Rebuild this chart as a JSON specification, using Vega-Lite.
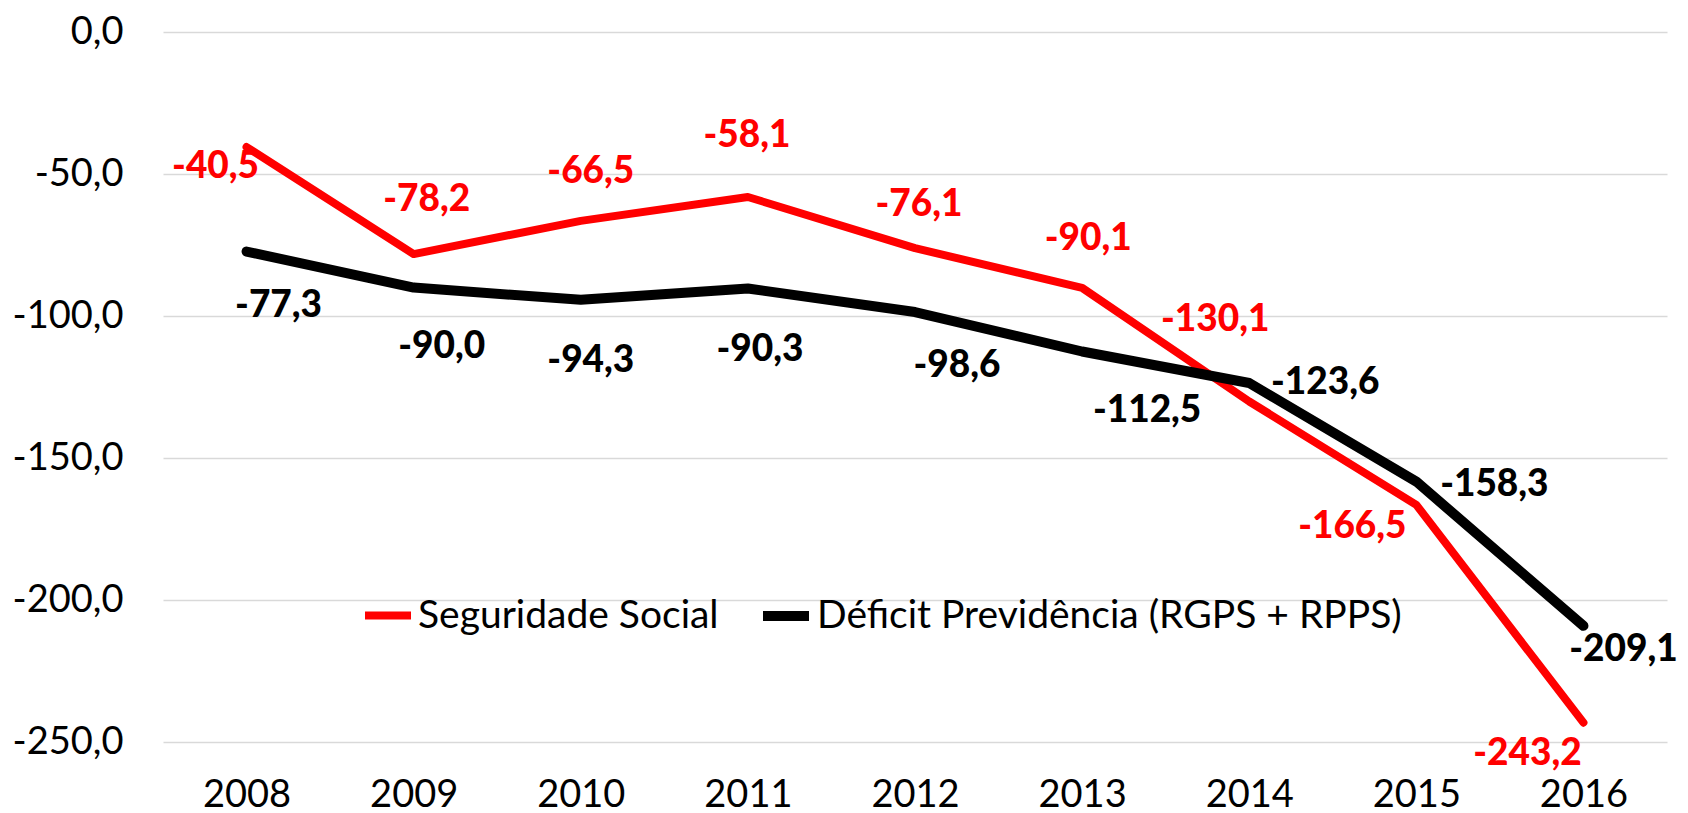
{
  "$schema": "https://vega.github.io/schema/vega-lite/v6.json",
  "width": 1504,
  "height": 710,
  "autosize": {"type": "none"},
  "padding": {"left": 163, "top": 32, "right": 21, "bottom": 71},
  "background": "#FFFFFF",
  "config": {
    "locale": {"number": {"decimal": ",", "thousands": ".", "grouping": [3], "currency": ["R$", ""], "minus": "-"}},
    "view": {"stroke": null},
    "font": "Lato"
  },
  "data": {
    "values": [
      {"year": "2008", "series": "Seguridade Social", "value": -40.5},
      {"year": "2009", "series": "Seguridade Social", "value": -78.2},
      {"year": "2010", "series": "Seguridade Social", "value": -66.5},
      {"year": "2011", "series": "Seguridade Social", "value": -58.1},
      {"year": "2012", "series": "Seguridade Social", "value": -76.1},
      {"year": "2013", "series": "Seguridade Social", "value": -90.1},
      {"year": "2014", "series": "Seguridade Social", "value": -130.1},
      {"year": "2015", "series": "Seguridade Social", "value": -166.5},
      {"year": "2016", "series": "Seguridade Social", "value": -243.2},
      {"year": "2008", "series": "Déficit Previdência (RGPS + RPPS)", "value": -77.3},
      {"year": "2009", "series": "Déficit Previdência (RGPS + RPPS)", "value": -90.0},
      {"year": "2010", "series": "Déficit Previdência (RGPS + RPPS)", "value": -94.3},
      {"year": "2011", "series": "Déficit Previdência (RGPS + RPPS)", "value": -90.3},
      {"year": "2012", "series": "Déficit Previdência (RGPS + RPPS)", "value": -98.6},
      {"year": "2013", "series": "Déficit Previdência (RGPS + RPPS)", "value": -112.5},
      {"year": "2014", "series": "Déficit Previdência (RGPS + RPPS)", "value": -123.6},
      {"year": "2015", "series": "Déficit Previdência (RGPS + RPPS)", "value": -158.3},
      {"year": "2016", "series": "Déficit Previdência (RGPS + RPPS)", "value": -209.1}
    ]
  },
  "encoding": {
    "x": {
      "field": "year", "type": "ordinal",
      "scale": {"type": "point", "padding": 0.5},
      "axis": {"title": null, "labelAngle": 0, "labelFontSize": 38, "labelColor": "#000000", "labelPadding": 34, "ticks": false, "domain": false, "grid": false}
    },
    "y": {
      "field": "value", "type": "quantitative",
      "scale": {"domain": [-250, 0], "nice": false, "zero": false},
      "axis": {"title": null, "values": [0, -50, -100, -150, -200, -250], "format": ".1f", "labelFontSize": 38, "labelColor": "#000000", "labelPadding": 40, "ticks": false, "domain": false, "grid": true, "gridColor": "#D9D9D9", "gridWidth": 1.5}
    }
  },
  "layer": [
    {
      "mark": {"type": "line", "strokeJoin": "round", "strokeCap": "round"},
      "encoding": {
        "color": {
          "field": "series", "type": "nominal",
          "scale": {"domain": ["Seguridade Social", "Déficit Previdência (RGPS + RPPS)"], "range": ["#FF0000", "#000000"]},
          "legend": {"title": null, "orient": "none", "legendX": 198, "legendY": 556, "direction": "horizontal", "symbolType": "stroke", "symbolSize": 2116, "symbolStrokeWidth": 9, "labelFontSize": 39, "labelColor": "#000000", "labelOffset": 3, "columnPadding": 24, "labelLimit": 900}
        },
        "strokeWidth": {
          "field": "series", "type": "nominal",
          "scale": {"domain": ["Seguridade Social", "Déficit Previdência (RGPS + RPPS)"], "range": [8, 10]},
          "legend": null
        }
      }
    },
    {
      "encoding": {"text": {"field": "value", "type": "quantitative", "format": ".1f"}},
      "layer": [
        {"transform": [{"filter": "datum.series == 'Seguridade Social' && datum.year == '2008'"}], "mark": {"type": "text", "fontSize": 37, "fontWeight": 900, "color": "#FF0000", "dx": -31, "dy": 20}},
        {"transform": [{"filter": "datum.series == 'Seguridade Social' && datum.year == '2009'"}], "mark": {"type": "text", "fontSize": 37, "fontWeight": 900, "color": "#FF0000", "dx": 13, "dy": -54}},
        {"transform": [{"filter": "datum.series == 'Seguridade Social' && datum.year == '2010'"}], "mark": {"type": "text", "fontSize": 37, "fontWeight": 900, "color": "#FF0000", "dx": 10, "dy": -49}},
        {"transform": [{"filter": "datum.series == 'Seguridade Social' && datum.year == '2011'"}], "mark": {"type": "text", "fontSize": 37, "fontWeight": 900, "color": "#FF0000", "dx": -1, "dy": -61}},
        {"transform": [{"filter": "datum.series == 'Seguridade Social' && datum.year == '2012'"}], "mark": {"type": "text", "fontSize": 37, "fontWeight": 900, "color": "#FF0000", "dx": 4, "dy": -43}},
        {"transform": [{"filter": "datum.series == 'Seguridade Social' && datum.year == '2013'"}], "mark": {"type": "text", "fontSize": 37, "fontWeight": 900, "color": "#FF0000", "dx": 6, "dy": -49}},
        {"transform": [{"filter": "datum.series == 'Seguridade Social' && datum.year == '2014'"}], "mark": {"type": "text", "fontSize": 37, "fontWeight": 900, "color": "#FF0000", "dx": -34, "dy": -81}},
        {"transform": [{"filter": "datum.series == 'Seguridade Social' && datum.year == '2015'"}], "mark": {"type": "text", "fontSize": 37, "fontWeight": 900, "color": "#FF0000", "dx": -64, "dy": 22}},
        {"transform": [{"filter": "datum.series == 'Seguridade Social' && datum.year == '2016'"}], "mark": {"type": "text", "fontSize": 37, "fontWeight": 900, "color": "#FF0000", "dx": -56, "dy": 31}},
        {"transform": [{"filter": "datum.series != 'Seguridade Social' && datum.year == '2008'"}], "mark": {"type": "text", "fontSize": 37, "fontWeight": 900, "color": "#000000", "dx": 32, "dy": 54}},
        {"transform": [{"filter": "datum.series != 'Seguridade Social' && datum.year == '2009'"}], "mark": {"type": "text", "fontSize": 37, "fontWeight": 900, "color": "#000000", "dx": 28, "dy": 59}},
        {"transform": [{"filter": "datum.series != 'Seguridade Social' && datum.year == '2010'"}], "mark": {"type": "text", "fontSize": 37, "fontWeight": 900, "color": "#000000", "dx": 10, "dy": 61}},
        {"transform": [{"filter": "datum.series != 'Seguridade Social' && datum.year == '2011'"}], "mark": {"type": "text", "fontSize": 37, "fontWeight": 900, "color": "#000000", "dx": 12, "dy": 62}},
        {"transform": [{"filter": "datum.series != 'Seguridade Social' && datum.year == '2012'"}], "mark": {"type": "text", "fontSize": 37, "fontWeight": 900, "color": "#000000", "dx": 42, "dy": 54}},
        {"transform": [{"filter": "datum.series != 'Seguridade Social' && datum.year == '2013'"}], "mark": {"type": "text", "fontSize": 37, "fontWeight": 900, "color": "#000000", "dx": 65, "dy": 59}},
        {"transform": [{"filter": "datum.series != 'Seguridade Social' && datum.year == '2014'"}], "mark": {"type": "text", "fontSize": 37, "fontWeight": 900, "color": "#000000", "dx": 76, "dy": 0}},
        {"transform": [{"filter": "datum.series != 'Seguridade Social' && datum.year == '2015'"}], "mark": {"type": "text", "fontSize": 37, "fontWeight": 900, "color": "#000000", "dx": 78, "dy": 3}},
        {"transform": [{"filter": "datum.series != 'Seguridade Social' && datum.year == '2016'"}], "mark": {"type": "text", "fontSize": 37, "fontWeight": 900, "color": "#000000", "dx": 40, "dy": 24}}
      ]
    }
  ]
}
